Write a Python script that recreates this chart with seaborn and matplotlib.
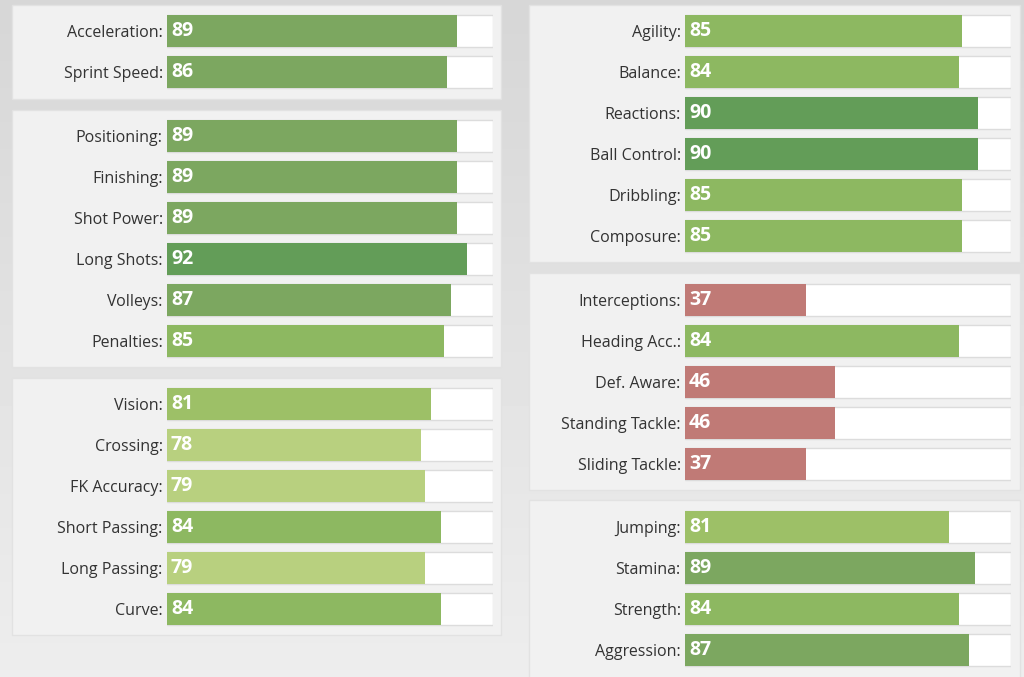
import matplotlib
matplotlib.use("Agg")
import matplotlib.pyplot as plt
import seaborn as sns
import numpy as np
from matplotlib.patches import Rectangle

plt.rcParams["font.family"] = "Open Sans"

p1_labels = ["Acceleration", "Sprint Speed"]
p1_vals = [89, 86]
p2_labels = ["Positioning", "Finishing", "Shot Power", "Long Shots", "Volleys", "Penalties"]
p2_vals = [89, 89, 89, 92, 87, 85]
p3_labels = ["Vision", "Crossing", "FK Accuracy", "Short Passing", "Long Passing", "Curve"]
p3_vals = [81, 78, 79, 84, 79, 84]
p4_labels = ["Agility", "Balance", "Reactions", "Ball Control", "Dribbling", "Composure"]
p4_vals = [85, 84, 90, 90, 85, 85]
p5_labels = ["Interceptions", "Heading Acc.", "Def. Aware", "Standing Tackle", "Sliding Tackle"]
p5_vals = [37, 84, 46, 46, 37]
p6_labels = ["Jumping", "Stamina", "Strength", "Aggression"]
p6_vals = [81, 89, 84, 87]

def color(v):
    if v >= 90: return "#5ba94c"
    if v >= 86: return "#79b354"
    if v >= 84: return "#8dc752"
    if v >= 80: return "#a0cf58"
    if v >= 70: return "#bedd72"
    return "#cc6f6a"

W, H = 1024, 677
fig = plt.figure(figsize=(W/100, H/100), dpi=100)
bg = fig.add_axes([0, 0, 1, 1], zorder=-10)
grad = np.linspace(0.84, 0.93, 100).reshape(-1, 1)
bg.imshow(grad, cmap="gray", vmin=0, vmax=1, aspect="auto", extent=[0, 1, 0, 1])
bg.axis("off")

panels = [
    (p1_labels, p1_vals, 12, 5, 99, 167, 31),
    (p2_labels, p2_vals, 12, 110, 367, 167, 136),
    (p3_labels, p3_vals, 12, 378, 635, 167, 404),
    (p4_labels, p4_vals, 529, 5, 262, 685, 31),
    (p5_labels, p5_vals, 529, 273, 490, 685, 300),
    (p6_labels, p6_vals, 529, 500, 680, 685, 527),
]

for labels, vals, px, ptop, pbot, bx, c0 in panels:
    pw = 489 if px == 12 else 491
    fig.patches.append(Rectangle((px / W, 1 - pbot / H), pw / W, (pbot - ptop) / H,
                                 transform=fig.transFigure, facecolor="#f1f1f1",
                                 edgecolor="#e2e2e2", lw=1, zorder=-5))
    n = len(labels)
    top = c0 - 20.5
    hgt = n * 41
    ax = fig.add_axes([bx / W, 1 - (top + hgt) / H, 326 / W, hgt / H])
    ax.barh(range(n), [100] * n, height=0.78, color="white", edgecolor="#dcdcdc", lw=1)
    sns.barplot(x=vals, y=list(range(n)), hue=list(range(n)), orient="h",
                palette=[color(v) for v in vals], legend=False, width=0.78, ax=ax,
                native_scale=True)
    ax.set_xlim(0, 100)
    ax.set_ylim(n - 0.5, -0.5)
    ax.set_yticks(range(n))
    ax.set_yticklabels([l + ":" for l in labels], fontsize=11.5, color="#333333")
    ax.tick_params(axis="y", length=0, pad=3)
    ax.set_xticks([])
    ax.set_xlabel("")
    ax.set_ylabel("")
    for s in ax.spines.values():
        s.set_visible(False)
    ax.patch.set_alpha(0)
    for i, v in enumerate(vals):
        ax.text(1.2, i, str(v), color="white", fontsize=14, fontweight="bold", va="center", ha="left")

fig.savefig("out.png", dpi=100)
